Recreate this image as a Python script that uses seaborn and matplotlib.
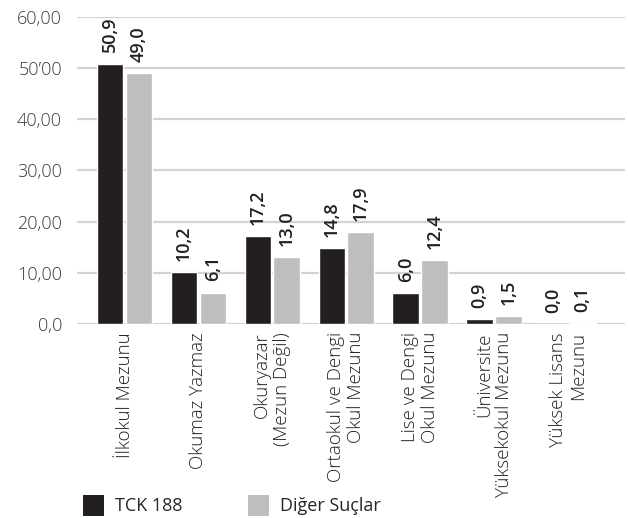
import pandas as pd
import seaborn as sns
import matplotlib.pyplot as plt
from matplotlib.patches import Patch

# chart data
categories = ['İlkokul Mezunu', 'Okumaz Yazmaz', 'Okuryazar\n(Mezun Değil)',
              'Ortaokul ve Dengi\nOkul Mezunu', 'Lise ve Dengi\nOkul Mezunu',
              'Üniversite\nYüksekokul Mezunu', 'Yüksek Lisans\nMezunu']
tck188 = [50.9, 10.2, 17.2, 14.8, 6.0, 0.9, 0.0]
diger = [49.0, 6.1, 13.0, 17.9, 12.4, 1.5, 0.1]
series = ['TCK 188', 'Diğer Suçlar']
yticks = [0, 10, 20, 30, 40, 50, 60]
ytick_labels = ['0,0', '10,00', '20,00', '30,00', '40,00', '50’00', '60,00']

colors = {'TCK 188': '#231f20', 'Diğer Suçlar': '#bebebf'}

df = pd.DataFrame({
    'kategori': categories * 2,
    'deger': tck188 + diger,
    'seri': [series[0]] * len(categories) + [series[1]] * len(categories),
})

sns.set_style('white')
plt.rcParams['font.family'] = ['Open Sans', 'DejaVu Sans']

fig = plt.figure(figsize=(6.28, 5.18), dpi=100)
ax = fig.add_axes([0.123, 0.375, 0.872, 0.592])

sns.barplot(data=df, x='kategori', y='deger', hue='seri', palette=colors,
            width=0.78, gap=0.08, saturation=1, legend=False, ax=ax, zorder=3)

# value labels on top of bars
for cont, vals in zip(ax.containers, [tck188, diger]):
    ax.bar_label(cont, labels=[f'{v:.1f}'.replace('.', ',') for v in vals],
                 rotation=90, padding=8, fontsize=13, fontweight='semibold', color='#231f20')

ax.set_ylim(0, 60)
ax.set_xlim(-0.64, 6.77)
ax.set_yticks(yticks)
ax.set_yticklabels(ytick_labels, fontsize=13, color='#3a3a3a', fontweight='light')
ax.yaxis.grid(True, color='#d3d3d3', linewidth=1.6, zorder=0)
ax.set_axisbelow(True)
for s in ax.spines.values():
    s.set_visible(False)
ax.tick_params(axis='y', length=0, pad=11)
ax.tick_params(axis='x', length=0, pad=6)
ax.set_xticks(range(len(categories)))
ax.set_xticklabels(categories, rotation=90, fontsize=13.5, color='#231f20',
                   fontweight='light', va='top', ha='center', multialignment='right',
                   linespacing=1.15)
ax.set_xlabel('')
ax.set_ylabel('')

handles = [Patch(facecolor=colors[s], edgecolor='none') for s in series]
fig.legend(handles, series, loc='lower left', bbox_to_anchor=(0.106, -0.027),
           ncol=2, frameon=False, fontsize=13, handlelength=1.2, handleheight=1.4,
           handletextpad=0.6, columnspacing=3.6)

fig.savefig('out.png', dpi=100)
